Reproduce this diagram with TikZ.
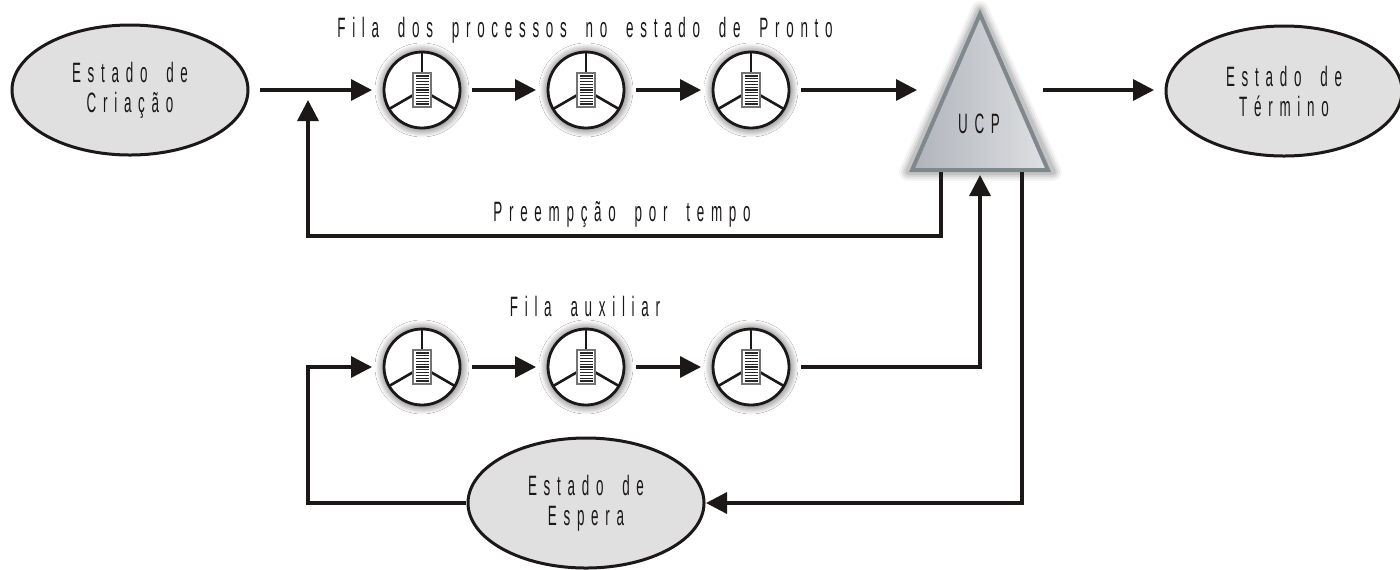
\documentclass[tikz,border=0pt]{standalone}
\usepackage{fontspec}
\usetikzlibrary{arrows.meta,shapes.geometric}
\newfontfamily\rotfont[FakeStretch=0.48,LetterSpace=24,WordSpace=1.8]{Liberation Sans}
\definecolor{E1}{RGB}{224,224,224}
\definecolor{U1}{RGB}{176,179,186}
\definecolor{U2}{RGB}{222,224,226}
\definecolor{U3}{RGB}{126,136,141}
\definecolor{T1}{RGB}{28,24,24}
\pgfdeclareradialshading{glow}{\pgfpoint{0bp}{0bp}}{color(0bp)=(black!35); color(20.5bp)=(black!35); color(25bp)=(white); color(50bp)=(white)}
\tikzset{
  rotulo/.style={font=\fontsize{14}{15}\selectfont\rotfont, text=T1, align=center},
  estado/.style={ellipse, draw=T1, line width=1.5pt, fill=E1, inner sep=0pt, minimum width=118pt, minimum height=65pt, outer sep=6pt, rotulo},
  wheel/.style={circle, draw=T1, line width=1.4pt, fill=white, inner sep=0pt, minimum size=38pt, outer sep=6pt},
  spoke/.style={T1, line width=1.3pt},
  flow/.style={T1, line width=1.7pt, -{Triangle[length=10.5pt,width=10.5pt]}},
}
\newcommand{\wheelnode}[3]{
  \fill[shading=glow] (#2,#3) circle (47);
  \node[wheel] (#1) at (#2,#3) {};
  \draw[spoke] (#1.center) -- ++(-90:38);
  \draw[spoke] (#1.center) -- ++(30:38);
  \draw[spoke] (#1.center) -- ++(150:38);
  \draw[fill=white, draw=black!55, line width=0.6pt] (#2-9,#3-17) rectangle (#2+9,#3+17);
  \foreach \k in {-14,-11.2,...,14.1} \draw[black!85, line width=0.6pt] (#2-6.5,#3+\k) -- (#2+6.5,#3+\k);
}
\begin{document}
\begin{tikzpicture}[x=0.5pt, y=-0.5pt]
  \useasboundingbox (0,0) rectangle (1400,569);
  \fill[white] (0,0) rectangle (1400,569);

  \node[estado] (criacao) at (130,90) {Estado de\\Criação};
  \node[estado] (termino) at (1284,91) {Estado de\\Término};
  \node[estado, outer sep=1pt] (espera) at (586,503) {Estado de\\Espera};

  \wheelnode{f1}{422}{90}
  \wheelnode{f2}{586}{90}
  \wheelnode{f3}{751}{90}
  \wheelnode{f4}{422}{367}
  \wheelnode{f5}{586}{367}
  \wheelnode{f6}{751}{367}

  \foreach \s/\o in {9/0.04, 7/0.05, 5/0.07, 3/0.09}
    \draw[black, opacity=\o, line width=\s pt, line join=round] (980,10) -- (1053,172) -- (908,172) -- cycle;
  \draw[U3, line width=2pt, line join=miter, left color=U1, right color=U2] (980,14) -- (1048,170) -- (912,170) -- cycle;
  \node[rotulo] (ucp) at (979,124) {UCP};

  \node[rotulo] (filapronto) at (585,30) {Fila dos processos no estado de Pronto};
  \node[rotulo] (preempcao) at (622,214) {Preempção por tempo};
  \node[rotulo] (filaaux) at (585,306) {Fila auxiliar};

  \coordinate (ucpent) at (917,90);
  \coordinate (ucpsai) at (1043,90);
  \coordinate (ucpesq) at (941,172);
  \coordinate (ucpbase) at (980,175);
  \coordinate (ucpdir) at (1022,172);
  \coordinate (canto1) at (308,236);
  \coordinate (juncao) at (308,100);
  \coordinate (canto2) at (1022,503);
  \coordinate (canto3) at (308,503);

  \draw[flow] (criacao) -- (f1);
  \draw[flow] (f1) -- (f2);
  \draw[flow] (f2) -- (f3);
  \draw[flow] (f3) -- (ucpent);
  \draw[flow] (ucpsai) -- (termino.west |- ucpsai);
  \draw[flow] (ucpesq) |- (canto1) -- (juncao);
  \draw[flow] (f4) -- (f5);
  \draw[flow] (f5) -- (f6);
  \draw[flow] (f6) -| (ucpbase);
  \draw[flow] (ucpdir) -- (canto2) -- (espera.east |- canto2);
  \draw[flow] (espera.west |- canto3) -- (canto3) |- (f4);
\end{tikzpicture}
\end{document}
